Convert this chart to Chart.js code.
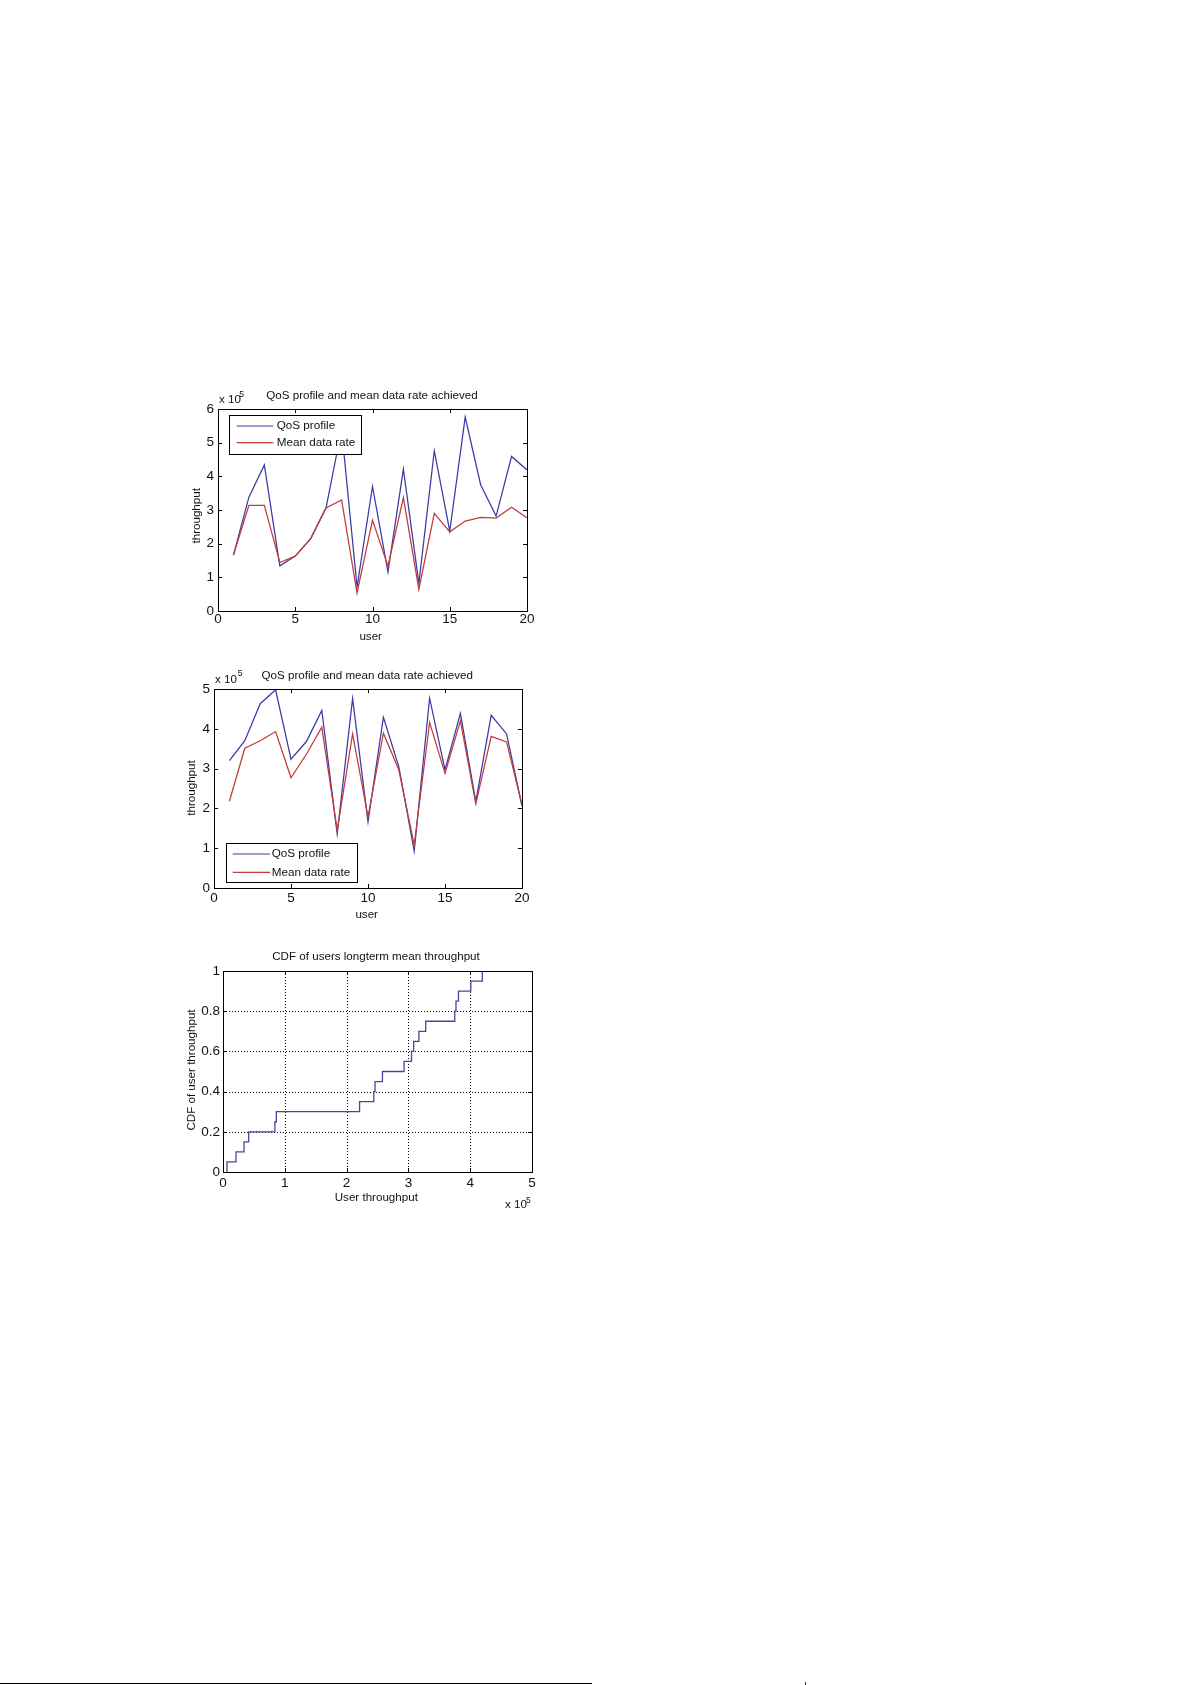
<!DOCTYPE html>
<html>
<head>
<meta charset="utf-8">
<script src="https://cdn.jsdelivr.net/npm/chart.js@4.4.1/dist/chart.umd.min.js"></script>
<style>
  html, body { margin: 0; padding: 0; background: #ffffff; }
  body { width: 1191px; height: 1685px; position: relative; overflow: hidden; }
  canvas { position: absolute; }
  #rule { position: absolute; left: 0; top: 1683px; width: 592px; height: 1px; background: #000; }
  #mark { position: absolute; left: 805px; top: 1682px; width: 1px; height: 3px; background: #1f3a2a; }
</style>
</head>
<body>
<canvas id="c1" width="400" height="280" style="left:150px;top:375px"></canvas>
<canvas id="c2" width="400" height="280" style="left:150px;top:655px"></canvas>
<canvas id="c3" width="400" height="290" style="left:150px;top:935px"></canvas>
<div id="rule"></div>
<div id="mark"></div>
<script>
// ---------------- data ----------------
const users = [1, 2, 3, 4, 5, 6, 7, 8, 9, 10, 11, 12, 13, 14, 15, 16, 17, 18, 19, 20];

// Figure 1 (throughput, bits/s)
const qosProfile1 = [166000, 338000, 434000, 134000, 163000, 215000, 308000, 540000, 71000, 370000,
                     116000, 421000, 82000, 476000, 237000, 576000, 375000, 282000, 459000, 419000];
const meanRate1   = [166000, 314000, 314000, 144000, 163000, 215000, 306000, 330000, 54000, 270000,
                     133000, 337000, 64000, 290000, 235000, 267000, 278000, 276000, 308000, 277000];

// Figure 2
const qosProfile2 = [320000, 370000, 463000, 498000, 324000, 368000, 446000, 136000, 476000, 166000,
                     429000, 305000, 93000, 477000, 297000, 439000, 217000, 434000, 387000, 206000];
const meanRate2   = [218000, 351000, 370000, 393000, 277000, 336000, 404000, 145000, 387000, 179000,
                     389000, 297000, 108000, 416000, 288000, 420000, 211000, 381000, 367000, 208000];

// Figure 3: CDF of users' long-term mean throughput
const cdfThroughput = [6500, 6500, 21000, 34000, 41500, 84000, 86300, 221000, 244000, 246000, 258000,
                       293000, 305000, 308500, 317000, 328000, 375000, 377000, 381000, 401000, 419600];
const cdfLevel      = [0, 0.05, 0.10, 0.15, 0.20, 0.25, 0.30, 0.35, 0.40, 0.45, 0.50,
                       0.55, 0.60, 0.65, 0.70, 0.75, 0.80, 0.85, 0.90, 0.95, 1.00];

const seriesNames = ['QoS profile', 'Mean data rate'];
const titles = ['QoS profile and mean data rate achieved', 'CDF of users longterm mean throughput'];

// ---------------- styling ----------------
const FONT = "'Liberation Sans', Arial, Helvetica, sans-serif";
const BLUE = '#3a3aa8';
const RED = '#c23a3a';
const CDF_BLUE = '#4646a0';
const TEXT = '#111';

const toPts = (xs, ys) => xs.map((v, i) => ({ x: v, y: ys[i] }));
const e5 = v => String(Math.round(v / 1e4) / 10);

const matlabAxes = {
  id: 'matlab',
  beforeDatasetsDraw(chart, args, o) {
    if (!o.grid) return;
    const { ctx, chartArea: a, scales: { x, y } } = chart;
    ctx.save();
    ctx.strokeStyle = '#000';
    ctx.lineWidth = 1;
    ctx.setLineDash([1, 2]);
    x.ticks.forEach(t => {
      const p = Math.round(x.getPixelForValue(t.value)) + 0.5;
      if (p <= a.left + 1 || p >= a.right - 1) return;
      ctx.beginPath(); ctx.moveTo(p, a.top); ctx.lineTo(p, a.bottom); ctx.stroke();
    });
    y.ticks.forEach(t => {
      const p = Math.round(y.getPixelForValue(t.value)) + 0.5;
      if (p <= a.top + 1 || p >= a.bottom - 1) return;
      ctx.beginPath(); ctx.moveTo(a.left, p); ctx.lineTo(a.right, p); ctx.stroke();
    });
    ctx.restore();
  },
  afterDatasetsDraw(chart, args, o) {
    const { ctx, chartArea: a, scales: { x, y } } = chart;
    ctx.save();
    ctx.setLineDash([]);
    ctx.strokeStyle = '#000';
    ctx.lineWidth = 1;
    // box
    ctx.strokeRect(Math.round(a.left) + 0.5, Math.round(a.top) + 0.5,
                   Math.round(a.right - a.left), Math.round(a.bottom - a.top));
    // inner tick marks on all four sides
    const TL = 4;
    x.ticks.forEach(t => {
      const p = Math.round(x.getPixelForValue(t.value)) + 0.5;
      if (p <= a.left + 1 || p >= a.right - 1) return;
      ctx.beginPath();
      ctx.moveTo(p, a.bottom); ctx.lineTo(p, a.bottom - TL);
      ctx.moveTo(p, a.top); ctx.lineTo(p, a.top + TL);
      ctx.stroke();
    });
    y.ticks.forEach(t => {
      const p = Math.round(y.getPixelForValue(t.value)) + 0.5;
      if (p <= a.top + 1 || p >= a.bottom - 1) return;
      ctx.beginPath();
      ctx.moveTo(a.left, p); ctx.lineTo(a.left + TL, p);
      ctx.moveTo(a.right, p); ctx.lineTo(a.right - TL, p);
      ctx.stroke();
    });
    // legend
    if (o.legend) {
      const L = o.legend;
      ctx.fillStyle = '#fff';
      ctx.fillRect(L.x, L.y, L.w, L.h);
      ctx.strokeRect(Math.round(L.x) + 0.5, Math.round(L.y) + 0.5, Math.round(L.w), Math.round(L.h));
      ctx.font = '11.7px ' + FONT;
      ctx.textAlign = 'left';
      ctx.textBaseline = 'middle';
      chart.data.datasets.forEach((ds, i) => {
        const ry = L.rows[i];
        ctx.strokeStyle = ds.borderColor;
        ctx.lineWidth = 1.2;
        ctx.beginPath(); ctx.moveTo(L.x1, ry); ctx.lineTo(L.x2, ry); ctx.stroke();
        ctx.fillStyle = TEXT;
        ctx.fillText(ds.label, L.tx, ry);
      });
      ctx.strokeStyle = '#000';
      ctx.lineWidth = 1;
    }
    // texts
    ctx.fillStyle = TEXT;
    ctx.textBaseline = 'middle';
    ctx.textAlign = 'center';
    ctx.font = '11.6px ' + FONT;
    ctx.fillText(o.title.text, o.title.x, o.title.y);
    ctx.fillText(o.xLabel.text, o.xLabel.x, o.xLabel.y);
    ctx.save();
    ctx.translate(o.yLabel.x, o.yLabel.y);
    ctx.rotate(-Math.PI / 2);
    ctx.fillText(o.yLabel.text, 0, 0);
    ctx.restore();
    // exponent "x 10^5"
    ctx.textAlign = 'left';
    ctx.textBaseline = 'alphabetic';
    ctx.font = '11.6px ' + FONT;
    ctx.fillText('x 10', o.exp.x, o.exp.y);
    ctx.font = '8.5px ' + FONT;
    ctx.fillText('5', o.exp.sx, o.exp.sy);
    ctx.restore();
  }
};

function makeChart(id, cfg) {
  const canvas = document.getElementById(id);
  const W = canvas.width, H = canvas.height, A = cfg.area;
  const tickFont = { family: FONT, size: 13.5 };
  return new Chart(canvas, {
    type: 'line',
    data: { datasets: cfg.datasets },
    plugins: [matlabAxes],
    options: {
      responsive: false,
      animation: false,
      events: [],
      layout: { padding: { left: 0, top: A.top, right: W - A.right, bottom: 0 } },
      elements: { point: { radius: 0 }, line: { tension: 0 } },
      scales: {
        x: {
          type: 'linear', min: cfg.x.min, max: cfg.x.max,
          grid: { display: false, drawTicks: false }, border: { display: false },
          ticks: { stepSize: cfg.x.step, padding: cfg.x.pad, font: tickFont, color: TEXT,
                   autoSkip: false, maxRotation: 0, callback: cfg.x.fmt },
          afterFit(s) { s.height = H - A.bottom; }
        },
        y: {
          type: 'linear', min: cfg.y.min, max: cfg.y.max,
          grid: { display: false, drawTicks: false }, border: { display: false },
          ticks: { stepSize: cfg.y.step, padding: cfg.y.pad, font: tickFont, color: TEXT,
                   autoSkip: false, callback: cfg.y.fmt },
          afterFit(s) { s.width = A.left; }
        }
      },
      plugins: {
        legend: { display: false },
        tooltip: { enabled: false },
        matlab: cfg.matlab
      }
    }
  });
}

const lineDs = (label, xs, ys, color, order) => ({
  label, data: toPts(xs, ys), borderColor: color, backgroundColor: color,
  borderWidth: 1.25, fill: false, pointRadius: 0, order
});

// Figure 1
makeChart('c1', {
  area: { left: 68, top: 34, right: 377, bottom: 236 },
  datasets: [lineDs(seriesNames[0], users, qosProfile1, BLUE, 2),
             lineDs(seriesNames[1], users, meanRate1, RED, 1)],
  x: { min: 0, max: 20, step: 5, pad: 0, fmt: v => String(v) },
  y: { min: 0, max: 600000, step: 100000, pad: 4, fmt: e5 },
  matlab: {
    title: { text: titles[0], x: 222, y: 20.7 },
    xLabel: { text: 'user', x: 220.7, y: 262 },
    yLabel: { text: 'throughput', x: 46.3, y: 140.8 },
    exp: { x: 69, y: 28.3, sx: 89.3, sy: 21.7 },
    legend: { x: 79, y: 40, w: 132, h: 39, rows: [51, 67.7], x1: 86.7, x2: 123.3, tx: 126.7 }
  }
});

// Figure 2
makeChart('c2', {
  area: { left: 64, top: 34, right: 372, bottom: 233 },
  datasets: [lineDs(seriesNames[0], users, qosProfile2, BLUE, 2),
             lineDs(seriesNames[1], users, meanRate2, RED, 1)],
  x: { min: 0, max: 20, step: 5, pad: 2.5, fmt: v => String(v) },
  y: { min: 0, max: 500000, step: 100000, pad: 4, fmt: e5 },
  matlab: {
    title: { text: titles[0], x: 217.3, y: 20.7 },
    xLabel: { text: 'user', x: 216.7, y: 260 },
    yLabel: { text: 'throughput', x: 41.7, y: 133 },
    exp: { x: 65, y: 28.3, sx: 87.7, sy: 21 },
    legend: { x: 76, y: 188, w: 131, h: 38.5, rows: [199, 217.3], x1: 82.7, x2: 120, tx: 121.7 }
  }
});

// Figure 3
makeChart('c3', {
  area: { left: 73, top: 36, right: 382, bottom: 237 },
  datasets: [{
    label: 'CDF', data: toPts(cdfThroughput, cdfLevel), borderColor: CDF_BLUE,
    borderWidth: 1.3, fill: false, pointRadius: 0, stepped: 'before'
  }],
  x: { min: 0, max: 500000, step: 100000, pad: 3, fmt: e5 },
  y: { min: 0, max: 1, step: 0.2, pad: 3, fmt: v => String(Math.round(v * 10) / 10) },
  matlab: {
    grid: true,
    title: { text: titles[1], x: 226, y: 21.7 },
    xLabel: { text: 'User throughput', x: 226.3, y: 262.5 },
    yLabel: { text: 'CDF of user throughput', x: 41.3, y: 135 },
    exp: { x: 355, y: 273.3, sx: 376, sy: 267.7 }
  }
});
</script>
</body>
</html>
